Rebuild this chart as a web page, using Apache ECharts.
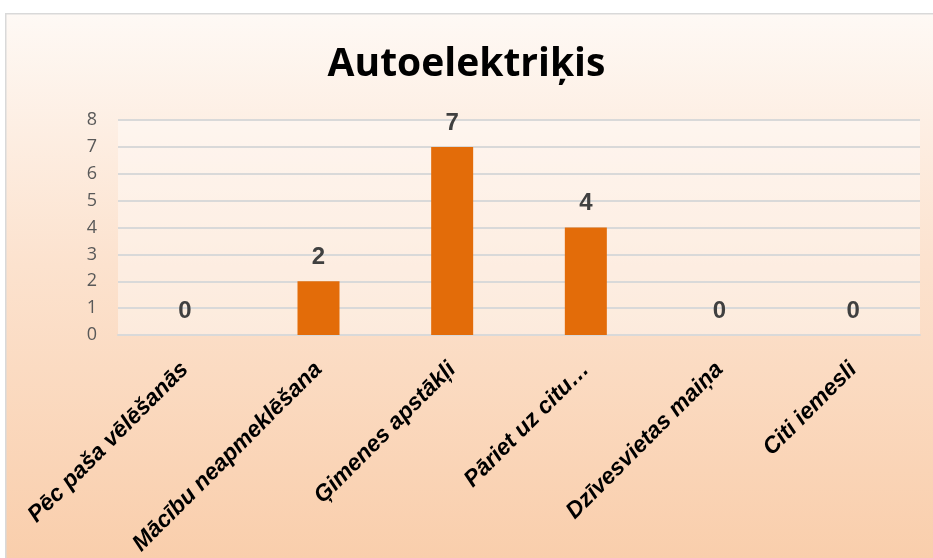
<!DOCTYPE html>
<html><head><meta charset="utf-8">
<script src="https://cdn.jsdelivr.net/npm/echarts@6/dist/echarts.min.js"></script>
<style>html,body{margin:0;padding:0;background:#fff}#c{width:933px;height:558px}</style>
</head><body><div id="c"></div>
<script>
const titleText = "Autoelektriķis";
const categories = ["Pēc paša vēlēšanās", "Mācību neapmeklēšana", "Ģimenes apstākļi", "Pāriet uz citu…", "Dzīvesvietas maiņa", "Citi iemesli"];
const values = [0, 2, 7, 4, 0, 0];
const yMin = 0, yMax = 8, yStep = 1;

const chart = echarts.init(document.getElementById('c'), null, {renderer: 'canvas'});
chart.setOption({
  animation: false,
  graphic: [{
    type: 'rect', left: 5, top: 13, z: -10,
    shape: {width: 940, height: 560},
    style: {
      fill: new echarts.graphic.LinearGradient(0, 0, 0, 1, [
        {offset: 0, color: '#FEF9F5'},
        {offset: 0.45, color: '#FCE2CE'},
        {offset: 1, color: '#F9CDAA'}
      ]),
      stroke: '#D9D9D9', lineWidth: 1.5
    }
  }],
  title: {
    text: titleText, left: 'center', top: 40,
    textStyle: {fontFamily: 'Open Sans', fontWeight: 'bold', fontSize: 39, color: '#000'}
  },
  grid: {left: 118, right: 13, top: 120, bottom: 223, show: true,
    backgroundColor: 'rgba(255,255,255,0.4)', borderWidth: 0},
  xAxis: {
    type: 'category', data: categories,
    axisLine: {show: true, lineStyle: {color: '#D9D9D9', width: 2}},
    axisTick: {show: false},
    axisLabel: {rotate: 45, interval: 0, margin: 31, color: '#000',
      fontFamily: 'Liberation Sans', fontWeight: 'bold', fontStyle: 'italic', fontSize: 23}
  },
  yAxis: {
    type: 'value', min: yMin, max: yMax, interval: yStep,
    axisLine: {show: false}, axisTick: {show: false},
    splitLine: {lineStyle: {color: '#D9D9D9', width: 2}},
    axisLabel: {margin: 21, color: '#595959', fontFamily: 'Open Sans', fontSize: 18}
  },
  series: [{
    type: 'bar', data: values, barWidth: 42,
    itemStyle: {color: '#E36C09'},
    label: {show: true, position: 'top', distance: 12, color: '#404040',
      fontFamily: 'Liberation Sans', fontWeight: 'bold', fontSize: 24}
  }]
});
</script></body></html>
